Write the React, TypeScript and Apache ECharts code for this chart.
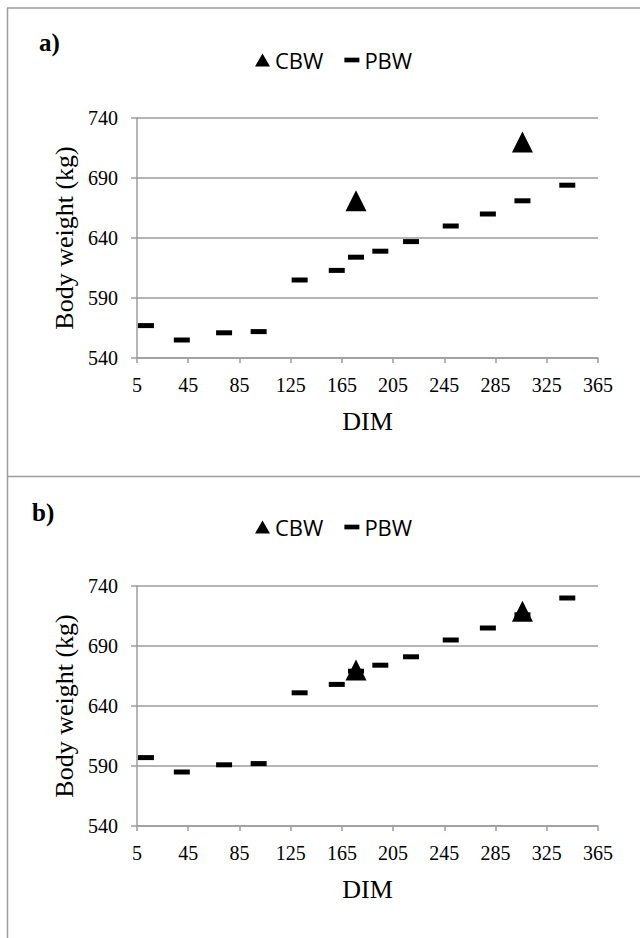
import React, { useEffect, useRef } from "react";
import * as echarts from "echarts";

// Days in milk (x) for predicted body weight points
const dimPBW = [12, 40, 73, 100, 132, 161, 176, 195, 219, 250, 279, 306, 341];
// Predicted body weight, panel a and panel b
const pbwA = [567, 555, 561, 562, 605, 613, 624, 629, 637, 650, 660, 671, 684];
const pbwB = [597, 585, 591, 592, 651, 658, 669, 674, 681, 695, 705, 716, 730];
// Observed (calculated) body weight
const dimCBW = [176, 306];
const cbwA = [671, 720];
const cbwB = [670, 719];

// Axis ranges / tick steps
const xMin = 5;
const xMax = 365;
const xStep = 40;
const yMin = 540;
const yMax = 740;
const yStep = 50;

const panelLabels = ["a)", "b)"];
const legendNames = ["CBW", "PBW"];
const xName = "DIM";
const yName = "Body weight (kg)";

const SERIF = "Liberation Serif";
const SANS = "Open Sans";
const GRAY = "#9d9d9d";

const pairs = (xs: number[], ys: number[]) => xs.map((x, i) => [x, ys[i]]);

export default function App() {
  const ref = useRef<HTMLDivElement>(null);

  useEffect(() => {
    document.body.style.margin = "0";
    if (!ref.current) return;
    const chart = echarts.init(ref.current, undefined, { renderer: "svg" });

    const panelTop = [118, 586];
    const legendTop = [44, 511];
    const labelPos = [
      [39, 42],
      [32, 512],
    ];

    const grids = panelTop.map((t) => ({
      left: 137,
      top: t,
      width: 461,
      height: 240,
      containLabel: false,
    }));

    const xAxes = panelTop.map((_, i) => ({
      type: "value",
      gridIndex: i,
      min: xMin,
      max: xMax,
      interval: xStep,
      name: xName,
      nameLocation: "middle",
      nameGap: 50,
      nameTextStyle: { fontFamily: SERIF, fontSize: 26, color: "#000" },
      axisLine: { show: true, lineStyle: { color: GRAY, width: 1.5 } },
      axisTick: { show: true, length: 5, lineStyle: { color: GRAY, width: 1.5 } },
      axisLabel: { fontFamily: SERIF, fontSize: 20, color: "#000", margin: 17 },
      splitLine: { show: false },
    }));

    const yAxes = panelTop.map((_, i) => ({
      type: "value",
      gridIndex: i,
      min: yMin,
      max: yMax,
      interval: yStep,
      name: yName,
      nameLocation: "middle",
      nameGap: 59,
      nameTextStyle: { fontFamily: SERIF, fontSize: 26, color: "#000" },
      axisLine: { show: true, lineStyle: { color: GRAY, width: 1.5 } },
      axisTick: { show: true, length: 6, lineStyle: { color: GRAY, width: 1.5 } },
      axisLabel: { fontFamily: SERIF, fontSize: 20, color: "#000", margin: 19 },
      splitLine: { show: true, lineStyle: { color: GRAY, width: 1.5 } },
    }));

    const pbwSets = [pbwA, pbwB];
    const cbwSets = [cbwA, cbwB];
    const series: any[] = [];
    panelTop.forEach((_, i) => {
      series.push({
        type: "scatter",
        name: legendNames[1],
        xAxisIndex: i,
        yAxisIndex: i,
        symbol: "rect",
        symbolSize: [16, 5],
        itemStyle: { color: "#000", opacity: 1 },
        data: pairs(dimPBW, pbwSets[i]),
        z: 2,
      });
      series.push({
        type: "scatter",
        name: legendNames[0],
        xAxisIndex: i,
        yAxisIndex: i,
        symbol: "triangle",
        symbolSize: [21, 21],
        itemStyle: { color: "#000", opacity: 1 },
        data: pairs(dimCBW, cbwSets[i]),
        z: 3,
      });
    });

    const legends = legendTop.map((t) => ({
      left: 250,
      top: t,
      itemWidth: 15,
      itemHeight: 13,
      itemGap: 21,
      selectedMode: false,
      textStyle: { fontFamily: SANS, fontSize: 22, color: "#000" },
      data: [
        { name: legendNames[0], icon: "triangle", itemStyle: { color: "#000", opacity: 1 } },
        { name: legendNames[1], icon: "path://M0,0 H16 V5 H0 Z", itemStyle: { color: "#000", opacity: 1 } },
      ],
    }));

    const graphics: any[] = [
      { type: "line", shape: { x1: 7.5, y1: 8, x2: 7.5, y2: 938 }, style: { stroke: GRAY, lineWidth: 1.5 } },
      { type: "line", shape: { x1: 7, y1: 8, x2: 640, y2: 8 }, style: { stroke: GRAY, lineWidth: 1.5 } },
      { type: "line", shape: { x1: 7, y1: 476.5, x2: 640, y2: 476.5 }, style: { stroke: GRAY, lineWidth: 1.5 } },
    ];
    panelLabels.forEach((txt, i) => {
      graphics.push({
        type: "text",
        x: labelPos[i][0],
        y: labelPos[i][1],
        style: {
          text: txt,
          font: `bold 25px ${SERIF}`,
          fill: "#000",
          verticalAlign: "middle",
          align: "left",
        },
      });
    });

    chart.setOption({
      animation: false,
      backgroundColor: "#fff",
      grid: grids,
      xAxis: xAxes,
      yAxis: yAxes,
      legend: legends,
      series,
      graphic: graphics,
    });

    return () => chart.dispose();
  }, []);

  return <div ref={ref} style={{ width: 640, height: 938 }} />;
}
